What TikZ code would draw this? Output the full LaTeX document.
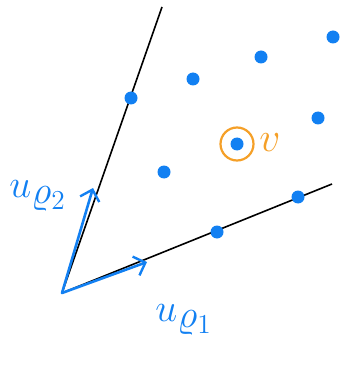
\documentclass[tikz,border=0pt]{standalone}
\usetikzlibrary{arrows.meta}
\definecolor{penblue}{RGB}{18,128,242}
\definecolor{penorange}{RGB}{245,160,40}
\begin{document}
\begin{tikzpicture}[x=1pt,y=-1pt,
  ray/.style={black,line width=1.6pt},
  vec/.style={penblue,line width=2.6pt,line cap=round,-{Straight Barb[length=10pt,width=20pt,line width=2.4pt]}},
  pt/.style={circle,fill=penblue,inner sep=0pt,minimum width=13pt,minimum height=13pt},
  lbl/.style={penblue,font=\fontsize{20}{20}\selectfont,scale=1.9,transform shape}]
\useasboundingbox (0,0) rectangle (360,374);
\coordinate (O) at (62,293);
\coordinate (A) at (162,7);
\coordinate (B) at (332,184);
\draw[ray] (O) -- (A);
\draw[ray] (O) -- (B);
\node[pt] (p1) at (131,98) {};
\node[pt] (p2) at (193,79) {};
\node[pt] (p3) at (261,57) {};
\node[pt] (p4) at (333,37) {};
\node[pt] (p5) at (164,172) {};
\node[pt] (p6) at (237,144) {};
\node[pt] (p7) at (318,118) {};
\node[pt] (p8) at (217,232) {};
\node[pt] (p9) at (298,197) {};
\coordinate (U2) at (93,188);
\coordinate (U1) at (147,262);
\draw[vec] (O) -- (U2);
\draw[vec] (O) -- (U1);
\node[draw=penorange,line width=2.2pt,circle,minimum size=33pt,inner sep=0pt] (ring) at (p6) {};
\node[penorange,font=\fontsize{20}{20}\selectfont,scale=2,transform shape] (v) at (270,143) {$v$};
\node[lbl] (l2) at (38,196) {$u_{\textstyle\varrho_{\scriptstyle 2}}$};
\node[lbl] (l1) at (184,320) {$u_{\textstyle\varrho_{\scriptstyle 1}}$};
\end{tikzpicture}
\end{document}
